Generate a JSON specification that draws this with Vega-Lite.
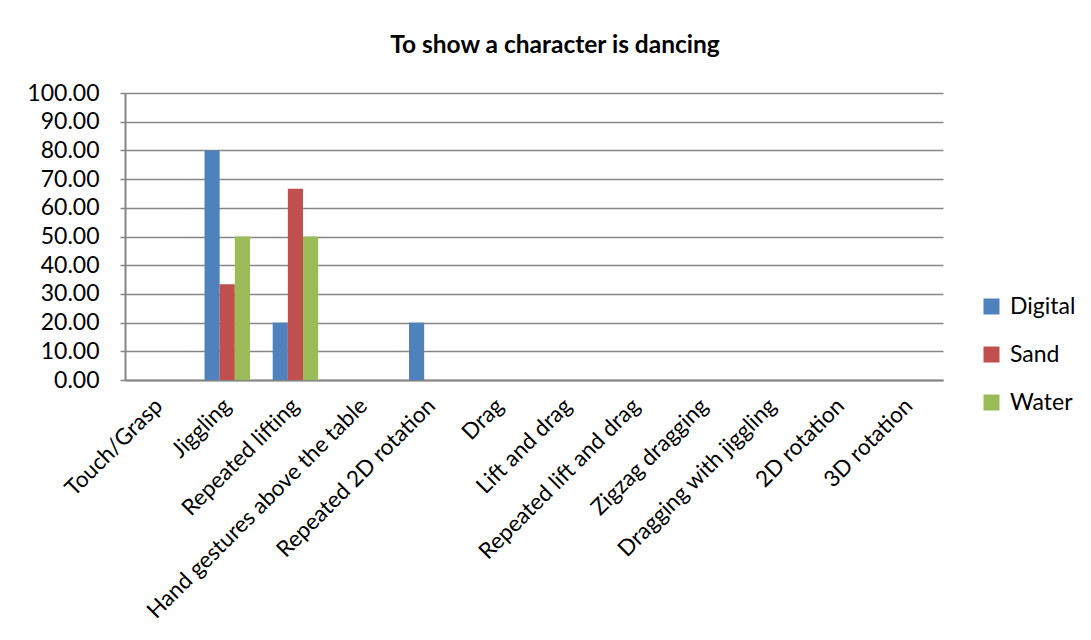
{
  "$schema": "https://vega.github.io/schema/vega-lite/v6.json",
  "width": 818,
  "height": 287,
  "autosize": {"type": "none"},
  "padding": {"left": 125, "top": 93, "right": 148, "bottom": 260},
  "background": "white",
  "title": {
    "text": "To show a character is dancing",
    "anchor": "middle",
    "fontSize": 24.5,
    "fontWeight": "bold",
    "font": "Lato",
    "color": "black",
    "dx": 21,
    "offset": 24
  },
  "data": {
    "values": [
      {"category": "Touch/Grasp", "series": "Digital", "value": 0},
      {"category": "Touch/Grasp", "series": "Sand", "value": 0},
      {"category": "Touch/Grasp", "series": "Water", "value": 0},
      {"category": "Jiggling", "series": "Digital", "value": 80},
      {"category": "Jiggling", "series": "Sand", "value": 33.33},
      {"category": "Jiggling", "series": "Water", "value": 50},
      {"category": "Repeated lifting", "series": "Digital", "value": 20},
      {"category": "Repeated lifting", "series": "Sand", "value": 66.67},
      {"category": "Repeated lifting", "series": "Water", "value": 50},
      {"category": "Hand gestures above the table", "series": "Digital", "value": 0},
      {"category": "Hand gestures above the table", "series": "Sand", "value": 0},
      {"category": "Hand gestures above the table", "series": "Water", "value": 0},
      {"category": "Repeated 2D rotation", "series": "Digital", "value": 20},
      {"category": "Repeated 2D rotation", "series": "Sand", "value": 0},
      {"category": "Repeated 2D rotation", "series": "Water", "value": 0},
      {"category": "Drag", "series": "Digital", "value": 0},
      {"category": "Drag", "series": "Sand", "value": 0},
      {"category": "Drag", "series": "Water", "value": 0},
      {"category": "Lift and drag", "series": "Digital", "value": 0},
      {"category": "Lift and drag", "series": "Sand", "value": 0},
      {"category": "Lift and drag", "series": "Water", "value": 0},
      {"category": "Repeated lift and drag", "series": "Digital", "value": 0},
      {"category": "Repeated lift and drag", "series": "Sand", "value": 0},
      {"category": "Repeated lift and drag", "series": "Water", "value": 0},
      {"category": "Zigzag dragging", "series": "Digital", "value": 0},
      {"category": "Zigzag dragging", "series": "Sand", "value": 0},
      {"category": "Zigzag dragging", "series": "Water", "value": 0},
      {"category": "Dragging with jiggling", "series": "Digital", "value": 0},
      {"category": "Dragging with jiggling", "series": "Sand", "value": 0},
      {"category": "Dragging with jiggling", "series": "Water", "value": 0},
      {"category": "2D rotation", "series": "Digital", "value": 0},
      {"category": "2D rotation", "series": "Sand", "value": 0},
      {"category": "2D rotation", "series": "Water", "value": 0},
      {"category": "3D rotation", "series": "Digital", "value": 0},
      {"category": "3D rotation", "series": "Sand", "value": 0},
      {"category": "3D rotation", "series": "Water", "value": 0}
    ]
  },
  "mark": {"type": "bar"},
  "encoding": {
    "x": {
      "field": "category",
      "type": "nominal",
      "sort": null,
      "title": null,
      "scale": {"paddingInner": 0.3333, "paddingOuter": 0.1667},
      "axis": {
        "labelAngle": -45,
        "labelAlign": "right",
        "labelBaseline": "middle",
        "labelFontSize": 22.5,
        "labelFont": "Lato",
        "labelColor": "black",
        "labelPadding": 22,
        "labelLimit": 400,
        "ticks": false,
        "domainColor": "#868686",
        "domainWidth": 2
      }
    },
    "xOffset": {"field": "series", "type": "nominal", "sort": ["Digital", "Sand", "Water"]},
    "y": {
      "field": "value",
      "type": "quantitative",
      "title": null,
      "scale": {"domain": [0, 100], "nice": false},
      "axis": {
        "values": [0, 10, 20, 30, 40, 50, 60, 70, 80, 90, 100],
        "format": ".2f",
        "labelFontSize": 23,
        "labelFont": "Lato",
        "labelColor": "black",
        "labelPadding": 21,
        "tickSize": 5,
        "tickColor": "#868686",
        "tickWidth": 1.5,
        "domainColor": "#868686",
        "domainWidth": 2,
        "grid": true,
        "gridColor": "#868686",
        "gridWidth": 1.5
      }
    },
    "color": {
      "field": "series",
      "type": "nominal",
      "sort": ["Digital", "Sand", "Water"],
      "scale": {"domain": ["Digital", "Sand", "Water"], "range": ["#4F81BD", "#C0504D", "#9BBB59"]},
      "legend": {
        "title": null,
        "orient": "none",
        "legendX": 855,
        "legendY": 202,
        "symbolType": "square",
        "symbolSize": 256,
        "symbolStrokeWidth": 0,
        "labelFontSize": 23,
        "labelFont": "Lato",
        "labelColor": "black",
        "rowPadding": 24,
        "labelOffset": 7
      }
    }
  },
  "config": {
    "view": {"stroke": null}
  }
}
